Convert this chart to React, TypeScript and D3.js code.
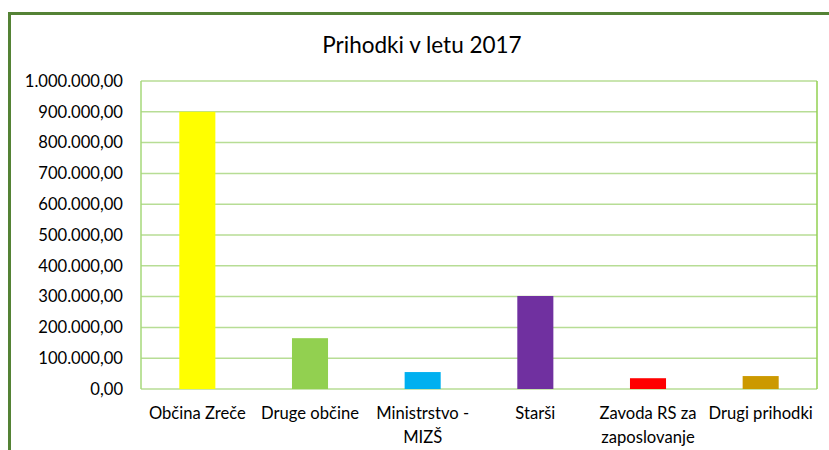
import React, { useRef, useEffect } from "react";
import * as d3 from "d3";

const categories = ["Občina Zreče", "Druge občine", "Ministrstvo - MIZŠ", "Starši", "Zavoda RS za zaposlovanje", "Drugi prihodki"];
const labelLines = [["Občina Zreče"], ["Druge občine"], ["Ministrstvo -", "MIZŠ"], ["Starši"], ["Zavoda RS za", "zaposlovanje"], ["Drugi prihodki"]];
const values = [900000, 165000, 55000, 302000, 35000, 42000];
const barColors = ["#FFFF00", "#92D050", "#00B0F0", "#7030A0", "#FF0000", "#CC9900"];
const yTicks = [0, 100000, 200000, 300000, 400000, 500000, 600000, 700000, 800000, 900000, 1000000];

const fmt = (v: number) =>
  d3.format(",.2f")(v).replace(/,/g, "#").replace(".", ",").replace(/#/g, ".");

const App = () => {
  const svgRef = useRef<SVGSVGElement>(null);

  useEffect(() => {
    const svg = d3.select(svgRef.current);
    svg.selectAll("*").remove();

    const width = 829;
    const height = 450;
    const margin = { top: 81, right: 12, bottom: 61, left: 141 };
    const font = "Lato, 'Open Sans', sans-serif";

    svg.append("rect").attr("width", width).attr("height", height).attr("fill", "#fff");

    // outer chart border (cut off at right/bottom like the screenshot)
    svg.append("rect")
      .attr("x", 9.5).attr("y", 13.5)
      .attr("width", width + 20).attr("height", height + 20)
      .attr("fill", "none").attr("stroke", "#548235").attr("stroke-width", 3);

    const x = d3.scaleBand<string>()
      .domain(categories)
      .range([margin.left, width - margin.right])
      .paddingInner(0.68)
      .paddingOuter(0.34);

    const y = d3.scaleLinear()
      .domain([0, 1000000])
      .range([height - margin.bottom, margin.top]);

    svg.append("text")
      .attr("x", 422).attr("y", 53)
      .attr("text-anchor", "middle")
      .attr("font-family", font).attr("font-size", 22.5)
      .attr("fill", "#000")
      .text("Prihodki v letu 2017");

    // gridlines
    svg.append("g").selectAll("line")
      .data(yTicks)
      .join("line")
      .attr("x1", margin.left).attr("x2", width - margin.right)
      .attr("y1", d => y(d)).attr("y2", d => y(d))
      .attr("stroke", "#B7DD95").attr("stroke-width", 1.5);

    // plot area sides
    svg.append("line")
      .attr("x1", margin.left).attr("x2", margin.left)
      .attr("y1", y(1000000)).attr("y2", y(0))
      .attr("stroke", "#A6D97A").attr("stroke-width", 1.5);
    svg.append("line")
      .attr("x1", width - margin.right).attr("x2", width - margin.right)
      .attr("y1", y(1000000)).attr("y2", y(0))
      .attr("stroke", "#92D050").attr("stroke-width", 1.5);

    // y tick labels
    svg.append("g").selectAll("text")
      .data(yTicks)
      .join("text")
      .attr("x", 123).attr("y", d => y(d))
      .attr("dy", "0.35em")
      .attr("text-anchor", "end")
      .attr("font-family", font).attr("font-size", 16.6)
      .attr("fill", "#000")
      .text(d => fmt(d));

    // bars
    svg.append("g").selectAll("rect")
      .data(values)
      .join("rect")
      .attr("x", (d, i) => x(categories[i]) as number)
      .attr("y", d => y(d))
      .attr("width", x.bandwidth())
      .attr("height", d => y(0) - y(d))
      .attr("fill", (d, i) => barColors[i]);

    // category labels
    svg.append("g").selectAll("text")
      .data(labelLines)
      .join("text")
      .attr("text-anchor", "middle")
      .attr("font-family", font).attr("font-size", 16.6)
      .attr("fill", "#000")
      .each(function (lines, i) {
        const cx = (x(categories[i]) as number) + x.bandwidth() / 2;
        d3.select(this).selectAll("tspan")
          .data(lines)
          .join("tspan")
          .attr("x", cx)
          .attr("y", (d, j) => 419 + j * 24)
          .text(d => d);
      });
  }, []);

  return (
    <svg ref={svgRef} width={829} height={450} style={{ position: "absolute", left: 0, top: 0 }}></svg>
  );
};

export default App;
